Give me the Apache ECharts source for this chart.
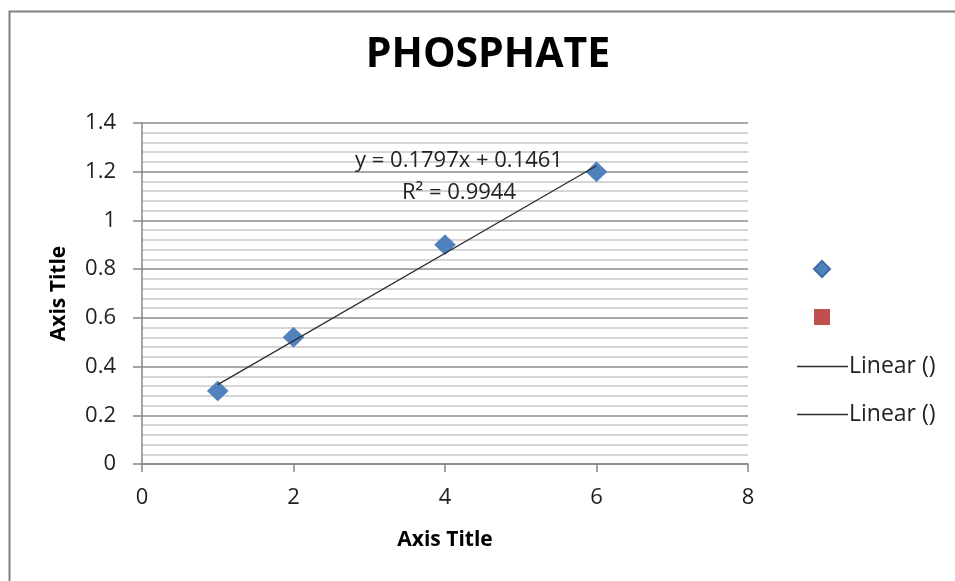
<!DOCTYPE html>
<html>
<head>
<meta charset="utf-8">
<script src="https://cdn.jsdelivr.net/npm/echarts@6/dist/echarts.min.js"></script>
<style>html,body{margin:0;padding:0;background:#fff;}#c{width:955px;height:581px;}</style>
</head>
<body>
<div id="c"></div>
<script>
const chartTitle = 'PHOSPHATE';
const xTitle = 'Axis Title';
const yTitle = 'Axis Title';
const seriesX = [1, 2, 4, 6];
const seriesY = [0.30, 0.52, 0.90, 1.20];
const series2X = [];
const series2Y = [];
const trendX = [1, 6];
const trendY = [0.3258, 1.2243];
const equationText = 'y = 0.1797x + 0.1461';
const r2Text = 'R² = 0.9944';
const legendLineLabel = 'Linear ()';

const FONT = 'Open Sans';
const chart = echarts.init(document.getElementById('c'), null, {renderer: 'canvas'});

const pts = seriesX.map((x, i) => [x, seriesY[i]]);
const pts2 = series2X.map((x, i) => [x, series2Y[i]]);
const trend = trendX.map((x, i) => [x, trendY[i]]);
const lineIcon = 'path://M0,0 L51,0 L51,1.4 L0,1.4 Z';

chart.setOption({
  animation: false,
  backgroundColor: '#ffffff',
  title: {
    text: chartTitle,
    top: 30,
    left: 483,
    textAlign: 'center',
    textStyle: {fontFamily: FONT, fontWeight: 'bold', fontSize: 41, color: '#000'}
  },
  grid: {left: 142, right: 207, top: 123, bottom: 117, containLabel: false},
  xAxis: {
    type: 'value', min: 0, max: 8, interval: 2,
    name: xTitle, nameLocation: 'middle', nameGap: 66,
    nameTextStyle: {fontFamily: FONT, fontWeight: 'bold', fontSize: 21, color: '#000'},
    axisLine: {show: true, lineStyle: {color: '#868686', width: 1.5}},
    axisTick: {show: true, length: 8, inside: false, lineStyle: {color: '#868686', width: 1.5}},
    axisLabel: {fontFamily: FONT, fontSize: 22, color: '#222', margin: 23},
    splitLine: {show: false}
  },
  yAxis: {
    type: 'value', min: 0, max: 1.4, interval: 0.2,
    name: yTitle, nameLocation: 'middle', nameGap: 72, nameRotate: 90,
    nameTextStyle: {fontFamily: FONT, fontWeight: 'bold', fontSize: 21, color: '#000'},
    axisLine: {show: true, lineStyle: {color: '#868686', width: 1.5}},
    axisTick: {show: true, length: 9, lineStyle: {color: '#868686', width: 1.5}},
    axisLabel: {fontFamily: FONT, fontSize: 22, color: '#222', margin: 26},
    splitLine: {show: true, lineStyle: {color: '#8c8c8c', width: 1.5}},
    minorTick: {show: false, splitNumber: 5},
    minorSplitLine: {show: true, lineStyle: {color: '#c8c8c8', width: 1.5}}
  },
  legend: [
    {
      data: [{name: 'Series1', icon: 'diamond'}, {name: 'Series2', icon: 'rect'}],
      orient: 'vertical', left: 808, top: 255,
      itemWidth: 16, itemHeight: 16, itemGap: 31,
      formatter: () => '',
      selectedMode: false
    },
    {
      data: [{name: 'Linear (Series1)', icon: lineIcon}, {name: 'Linear (Series2)', icon: lineIcon}],
      orient: 'vertical', left: 792, top: 350,
      itemWidth: 51, itemHeight: 20, itemGap: 25,
      formatter: () => legendLineLabel,
      textStyle: {fontFamily: FONT, fontSize: 23, color: '#222', padding: [0, 0, 0, -4]},
      selectedMode: false
    }
  ],
  graphic: [
    {type: 'rect', left: 7, top: 9, z: -10, silent: true,
     shape: {x: 0, y: 0, width: 1000, height: 700},
     style: {fill: 'none', stroke: '#808080', lineWidth: 2}},
    {type: 'text', x: 459, y: 161, z: 100, silent: true,
     style: {text: equationText, fontFamily: FONT, fontSize: 22, fill: '#222', align: 'center', verticalAlign: 'middle'}},
    {type: 'text', x: 459, y: 193, z: 100, silent: true,
     style: {text: r2Text, fontFamily: FONT, fontSize: 22, fill: '#222', align: 'center', verticalAlign: 'middle'}}
  ],
  series: [
    {
      name: 'Linear (Series1)', type: 'line', data: trend,
      symbol: 'none', lineStyle: {color: '#2e2e2e', width: 1.3}, itemStyle: {color: '#2e2e2e'}, z: 3
    },
    {
      name: 'Linear (Series2)', type: 'line', data: [],
      symbol: 'none', lineStyle: {color: '#2e2e2e', width: 1.3}, itemStyle: {color: '#2e2e2e'}
    },
    {
      name: 'Series1', type: 'scatter', data: pts, symbol: 'diamond', symbolSize: [21, 20],
      itemStyle: {color: '#4F81BD', borderColor: '#3d6ca6', borderWidth: 0.5, opacity: 1}, z: 2
    },
    {
      name: 'Series2', type: 'scatter', data: pts2, symbol: 'rect', symbolSize: 15,
      itemStyle: {color: '#C0504D', opacity: 1}
    }
  ]
});
</script>
</body>
</html>
